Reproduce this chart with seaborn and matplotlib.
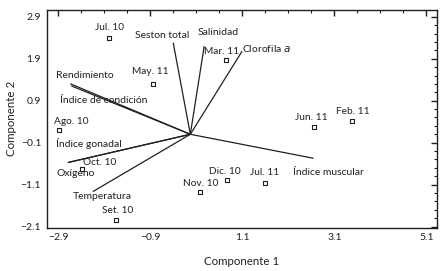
import pandas as pd
import matplotlib
matplotlib.use("Agg")
import matplotlib.pyplot as plt
import seaborn as sns
from matplotlib.ticker import MultipleLocator

# sample scores (months)
months = ["Jul. 10", "May. 11", "Ago. 10", "Oct. 10", "Set. 10", "Nov. 10",
          "Dic. 10", "Jul. 11", "Jun. 11", "Feb. 11", "Mar. 11"]
comp1 = [-1.79, -0.83, -2.88, -2.39, -1.65, 0.19, 0.77, 1.60, 2.66, 3.49, 0.74]
comp2 = [2.39, 1.30, 0.20, -0.73, -1.94, -1.27, -1.00, -1.06, 0.28, 0.42, 1.86]

# variable loadings (vector end points), drawn from a common origin
variables = ["Seston total", "Salinidad", "Clorofila", "Rendimiento",
             "Índice de condición", "Índice gonadal", "Oxígeno",
             "Temperatura", "Índice muscular"]
load1 = [-0.40, 0.27, 1.09, -2.63, -2.61, -2.68, -2.68, -2.14, 2.64]
load2 = [2.27, 2.19, 2.07, 1.30, 1.25, -0.57, -0.57, -1.26, -0.47]
origin = (-0.03, 0.10)

# label offsets in pixels (placement only)
month_off = [(0, 11), (-3, 12), (12, 9), (18, 7), (2, 9), (0, 8),
             (-2, 9), (-1, 10), (-3, 9), (0, 9), (-4, 9)]
var_off = [(-11, 8), (14, 14), (25, 3), (14, 8), (32, -14), (21, 19),
           (7, -11), (9, -5), (15, -14)]

scores = pd.DataFrame({"mes": months, "c1": comp1, "c2": comp2})

sns.set_theme(style="white")
plt.rcParams["font.family"] = ["Lato", "DejaVu Sans"]
ink = "#231f20"

fig = plt.figure(figsize=(4.45, 2.71), dpi=100)
ax = fig.add_axes([0.105, 0.1605, 0.876, 0.8026])

for x, y in zip(load1, load2):
    ax.plot([origin[0], x], [origin[1], y], color=ink, lw=0.9, zorder=2)

sns.scatterplot(data=scores, x="c1", y="c2", marker="s", s=12,
                facecolor="white", edgecolor=ink, linewidth=0.8, ax=ax, zorder=3)

for m, x, y, off in zip(months, comp1, comp2, month_off):
    ax.annotate(m, (x, y), xytext=off, textcoords="offset pixels",
                ha="center", va="center", fontsize=7.3, color=ink)

for v, x, y, off in zip(variables, load1, load2, var_off):
    label = v + r" $\it{a}$" if v == "Clorofila" else v
    ax.annotate(label, (x, y), xytext=off, textcoords="offset pixels",
                ha="center", va="center", fontsize=7.5, color=ink)

ax.set_xlim(-3.15, 5.32)
ax.set_ylim(-2.12, 3.06)
ax.xaxis.set_major_locator(MultipleLocator(2.0, offset=-0.9))
ax.xaxis.set_minor_locator(MultipleLocator(0.5, offset=0.1))
ax.yaxis.set_major_locator(MultipleLocator(1.0, offset=-0.1))
ax.yaxis.set_minor_locator(MultipleLocator(0.2, offset=0.1))
ax.tick_params(which="both", direction="in", top=True, right=True,
               colors=ink, labelsize=7.5, pad=4)
ax.tick_params(which="major", length=4, width=1)
ax.tick_params(which="minor", length=2.5, width=0.8)
for s in ax.spines.values():
    s.set_color(ink)
    s.set_linewidth(1)
ax.set_xlabel("Componente 1", fontsize=8.3, color=ink, labelpad=10)
ax.set_ylabel("Componente 2", fontsize=8.3, color=ink, labelpad=3)
ax.grid(False)

fig.savefig("out.png", dpi=100)
